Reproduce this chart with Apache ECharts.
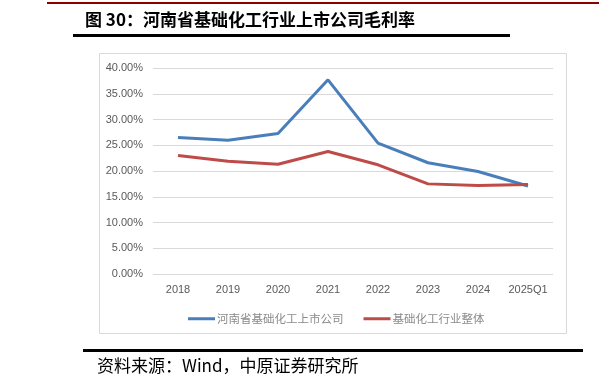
<!DOCTYPE html>
<html><head><meta charset="utf-8">
<script src="https://cdn.jsdelivr.net/npm/echarts@6/dist/echarts.min.js"></script>
<style>html,body{margin:0;padding:0;background:#fff}#c{width:599px;height:389px}</style>
</head><body><div id="c"></div>
<script>
const categories = ['2018','2019','2020','2021','2022','2023','2024','2025Q1'];
const henanValues = [26.5, 25.95, 27.3, 37.7, 25.4, 21.6, 19.9, 17.1];
const industryValues = [23.0, 21.9, 21.3, 23.8, 21.2, 17.5, 17.2, 17.4];
const seriesNames = ['河南省基础化工上市公司', '基础化工行业整体'];
const titleText = '图 30：河南省基础化工行业上市公司毛利率';
const sourceText = '资料来源：Wind，中原证券研究所';

const chart = echarts.init(document.getElementById('c'), null, {renderer:'canvas'});
chart.setOption({
  animation: false,
  backgroundColor: '#fff',
  grid: {left: 153, right: 46, top: 68, bottom: 115, containLabel: false},
  xAxis: {
    type: 'category', data: categories, boundaryGap: true,
    axisLine: {show: false}, axisTick: {show: false},
    axisLabel: {color: '#595959', fontSize: 11, fontFamily: 'Liberation Sans, Arial', margin: 10, interval: 0}
  },
  yAxis: {
    type: 'value', min: 0, max: 40, interval: 5,
    axisLine: {show: false}, axisTick: {show: false},
    splitLine: {lineStyle: {color: '#d9d9d9', width: 1}},
    axisLabel: {color: '#595959', fontSize: 11, fontFamily: 'Liberation Sans, Arial', margin: 10,
      formatter: v => v.toFixed(2) + '%'}
  },
  legend: {
    left: 183, top: 308, icon: 'rect', itemWidth: 27, itemHeight: 3, itemGap: 20,
    textStyle: {color: '#8a8a8a', fontSize: 11.5, fontFamily: 'Noto Sans CJK SC', padding: [0,0,0,-3]},
    data: seriesNames
  },
  series: [
    {name: seriesNames[0], type: 'line', data: henanValues, symbol: 'none',
     lineStyle: {color: '#4a7ebb', width: 3}, itemStyle: {color: '#4a7ebb'}},
    {name: seriesNames[1], type: 'line', data: industryValues, symbol: 'none',
     lineStyle: {color: '#be4b48', width: 3}, itemStyle: {color: '#be4b48'}}
  ],
  graphic: [
    {type: 'rect', shape: {x: 47, y: 2, width: 552, height: 2}, style: {fill: '#8b0000'}},
    {type: 'text', left: 85, top: 11, style: {text: titleText, font: 'bold 17px "Noto Sans CJK SC"', fill: '#000'}},
    {type: 'rect', shape: {x: 73, y: 34, width: 437, height: 3}, style: {fill: '#000'}},
    {type: 'rect', shape: {x: 99.5, y: 53.5, width: 467, height: 280}, style: {fill: 'none', stroke: '#d9d9d9', lineWidth: 1}, z: -1},
    {type: 'rect', shape: {x: 83, y: 349, width: 500, height: 3}, style: {fill: '#000'}},
    {type: 'text', left: 97, top: 357, style: {text: sourceText, font: '17px "Noto Sans CJK SC"', fill: '#000'}}
  ]
});
</script></body></html>
